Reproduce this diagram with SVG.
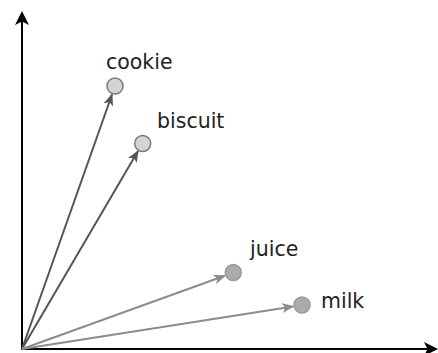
<svg xmlns="http://www.w3.org/2000/svg" width="438" height="353" viewBox="0 0 438 353">
  <style>
    .axis { stroke: #000; stroke-width: 2; fill: none; }
    .vec-dark { stroke: #555; stroke-width: 2; fill: none; }
    .vec-light { stroke: #8c8c8c; stroke-width: 2; fill: none; }
    .pt-light { fill: #d3d3d3; stroke: #7a7a7a; stroke-width: 1.5; }
    .pt-dark { fill: #ababab; stroke: #999; stroke-width: 1.5; }
    .label { font-family: "DejaVu Sans", Verdana, sans-serif; font-size: 20.5px; fill: #222; }
  </style>
  <defs>
    <marker id="head-black" markerUnits="userSpaceOnUse" markerWidth="16" markerHeight="16" refX="12" refY="7" orient="auto">
      <path d="M0,0 L14,7 L0,14 L3.5,7 z" fill="#000"/>
    </marker>
    <marker id="head-dark" markerUnits="userSpaceOnUse" markerWidth="14" markerHeight="12" refX="11" refY="5" orient="auto">
      <path d="M0,0 L12,5 L0,10 L3,5 z" fill="#555"/>
    </marker>
    <marker id="head-light" markerUnits="userSpaceOnUse" markerWidth="14" markerHeight="12" refX="11" refY="5" orient="auto">
      <path d="M0,0 L12,5 L0,10 L3,5 z" fill="#8c8c8c"/>
    </marker>
  </defs>

  <g id="connectors">
    <!-- axes -->
    <line class="axis" x1="22" y1="349" x2="22" y2="13" marker-end="url(#head-black)"/>
    <line class="axis" x1="21" y1="349" x2="436" y2="349" marker-end="url(#head-black)"/>
    <!-- word vectors -->
    <line class="vec-dark" x1="22" y1="349" x2="112" y2="94.5" marker-end="url(#head-dark)"/>
    <line class="vec-dark" x1="22" y1="349" x2="138" y2="151" marker-end="url(#head-dark)"/>
    <line class="vec-light" x1="22" y1="349" x2="224.8" y2="275.8" marker-end="url(#head-light)"/>
    <line class="vec-light" x1="22" y1="349" x2="293.1" y2="306.4" marker-end="url(#head-light)"/>
  </g>

  <g id="cookie">
    <circle class="pt-light" cx="115" cy="86" r="8"/>
    <text class="label" x="106" y="69">cookie</text>
  </g>
  <g id="biscuit">
    <circle class="pt-light" cx="142.7" cy="143.5" r="8"/>
    <text class="label" x="157" y="128">biscuit</text>
  </g>
  <g id="juice">
    <circle class="pt-dark" cx="233.3" cy="272.5" r="8"/>
    <text class="label" x="250" y="255.5">juice</text>
  </g>
  <g id="milk">
    <circle class="pt-dark" cx="302" cy="305" r="8"/>
    <text class="label" x="321" y="307.5">milk</text>
  </g>
</svg>
